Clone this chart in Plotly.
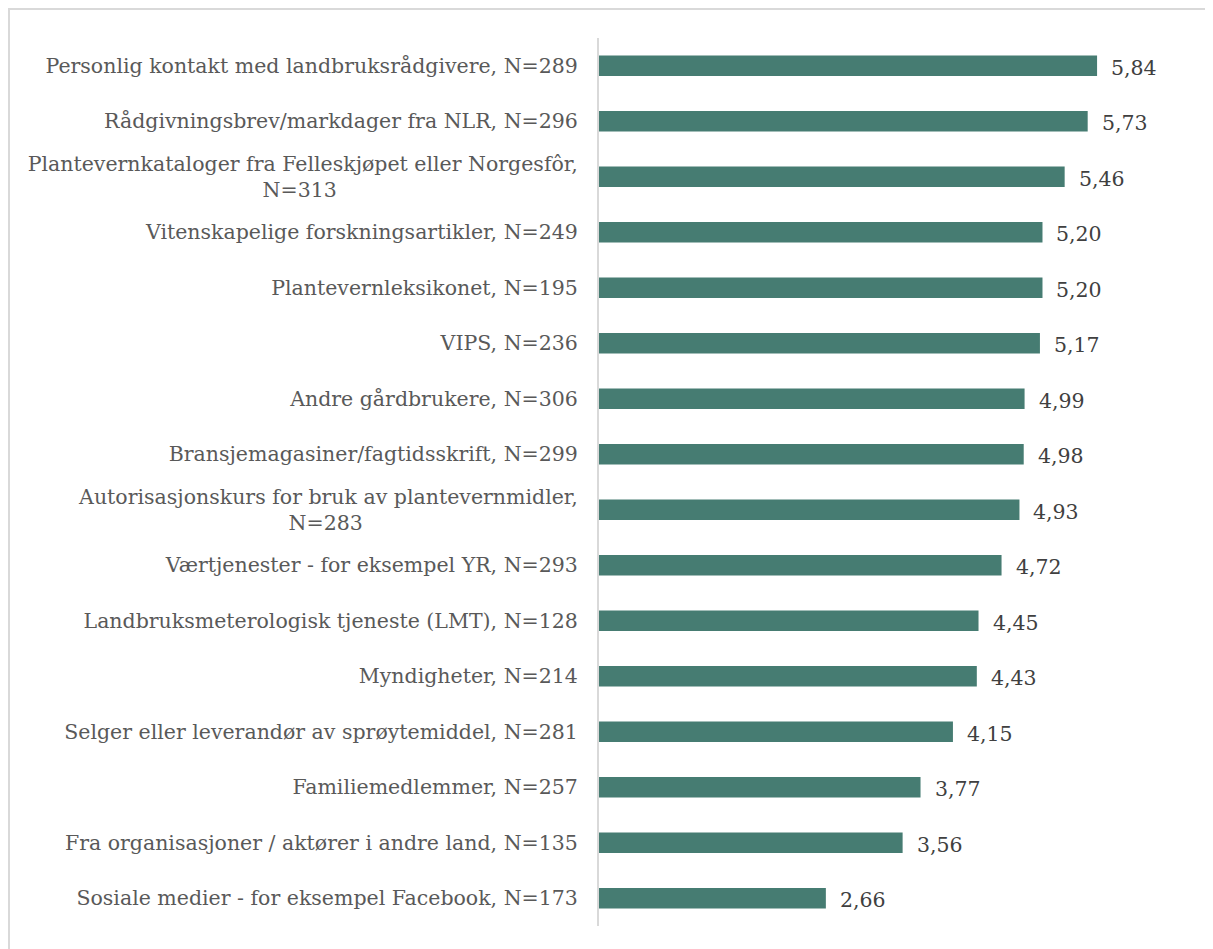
import plotly.graph_objects as go

NB = "\u00a0"
categories = [
    "Personlig kontakt med landbruksrådgivere, N=289",
    "Rådgivningsbrev/markdager fra NLR, N=296",
    "Plantevernkataloger fra Felleskjøpet eller Norgesfôr,<br>N=313" + NB * 37,
    "Vitenskapelige forskningsartikler, N=249",
    "Plantevernleksikonet, N=195",
    "VIPS, N=236",
    "Andre gårdbrukere, N=306",
    "Bransjemagasiner/fagtidsskrift, N=299",
    "Autorisasjonskurs for bruk av plantevernmidler,<br>N=283" + NB * 33,
    "Værtjenester - for eksempel YR, N=293",
    "Landbruksmeterologisk tjeneste (LMT), N=128",
    "Myndigheter, N=214",
    "Selger eller leverandør av sprøytemiddel, N=281",
    "Familiemedlemmer, N=257",
    "Fra organisasjoner / aktører i andre land, N=135",
    "Sosiale medier - for eksempel Facebook, N=173",
]
values = [5.84, 5.73, 5.46, 5.20, 5.20, 5.17, 4.99, 4.98, 4.93, 4.72, 4.45, 4.43, 4.15, 3.77, 3.56, 2.66]
value_labels = [f"{v:.2f}".replace(".", ",") for v in values]

FONT = "DejaVu Serif"
FS = 20.5

fig = go.Figure()
fig.add_trace(go.Bar(
    x=values,
    y=categories,
    orientation="h",
    marker=dict(color="#467c72", line=dict(width=0)),
    width=0.37,
    hoverinfo="x+y",
))

for v, c, t in zip(values, categories, value_labels):
    fig.add_annotation(
        x=v, y=c, xref="x", yref="y", text=t, showarrow=False,
        xanchor="left", yanchor="middle", xshift=12, yshift=-2,
        font=dict(family=FONT, size=FS, color="#404040"),
    )

# figure sits at page offset (8, 8)
W, H = 1205, 941
pl, pr, pt, pb = 591, 17, 30, 23
pw, ph = W - pl - pr, H - pt - pb
def px_to_paper_x(px):
    return (px - pl) / pw
def px_to_paper_y(py):
    return (H - pb - py) / ph

fig.add_shape(
    type="rect", xref="paper", yref="paper",
    x0=px_to_paper_x(1), x1=px_to_paper_x(1240),
    y0=px_to_paper_y(980), y1=px_to_paper_y(1),
    line=dict(color="#d9d9d9", width=2), fillcolor="rgba(0,0,0,0)", layer="below",
)

fig.update_layout(
    width=W, height=H,
    margin=dict(l=pl, r=pr, t=pt, b=pb, pad=0),
    paper_bgcolor="white", plot_bgcolor="white",
    showlegend=False,
    font=dict(family=FONT, size=FS, color="#595959"),
    xaxis=dict(range=[0, 7], visible=False, showgrid=False, zeroline=False),
    yaxis=dict(
        autorange="reversed", showgrid=False, zeroline=False,
        showline=True, linecolor="#d9d9d9", linewidth=2,
        ticks="", ticklabelstandoff=15,
        tickfont=dict(family=FONT, size=FS, color="#595959"),
    ),
)

fig.write_html("out.html")
